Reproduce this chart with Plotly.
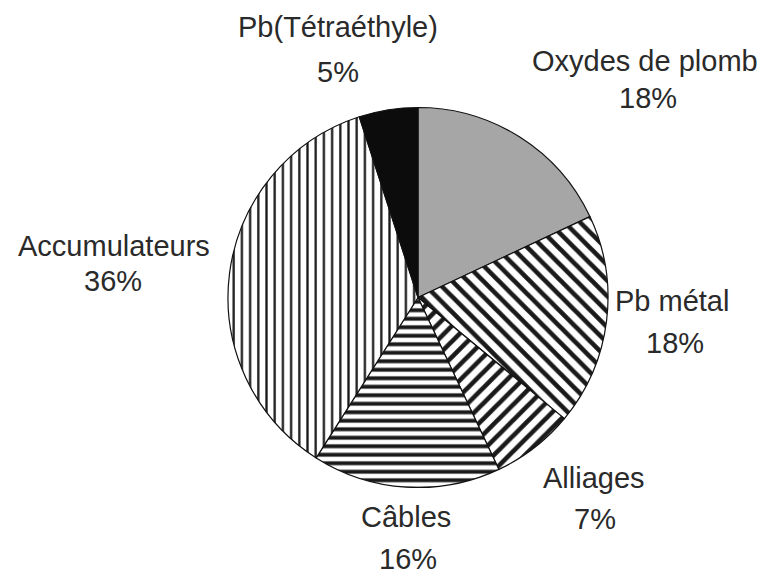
import plotly.graph_objects as go

# Data
categories = ["Oxydes de plomb", "Pb métal", "Alliages", "Câbles", "Accumulateurs", "Pb(Tétraéthyle)"]
values = [18, 18, 7, 16, 36, 5]

# Styles (not data)
slice_colors = ["#a6a6a6", "white", "white", "white", "white", "#0c0c0c"]
pattern_shapes = ["", "\\", "/", "-", "|", ""]
pattern_sizes = [8, 11, 11, 8.5, 8.2, 8]
pattern_solid = [0.3, 0.42, 0.42, 0.46, 0.28, 0.3]

# label placement (pixel centres in the 769x577 canvas): name line, percent line
W, H = 769, 577
label_pos = {
    "Oxydes de plomb": (645, 61, 648, 98),
    "Pb métal": (672, 301, 675, 343),
    "Alliages": (594, 478, 595, 519),
    "Câbles": (406, 517, 408, 559),
    "Accumulateurs": (114, 246, 113, 281),
    "Pb(Tétraéthyle)": (338, 27, 338, 72),
}

cx, cy, r = 418, 297.5, 190

fig = go.Figure(go.Pie(
    labels=categories,
    values=values,
    sort=False,
    direction="clockwise",
    rotation=0,
    textinfo="none",
    hoverinfo="label+percent",
    marker=dict(
        colors=slice_colors,
        line=dict(color="#111111", width=1.2),
        pattern=dict(
            shape=pattern_shapes,
            fillmode="overlay",
            fgcolor="#1a1a1a",
            fgopacity=1,
            size=pattern_sizes,
            solidity=pattern_solid,
        ),
    ),
    domain=dict(x=[(cx - r) / W, (cx + r) / W], y=[1 - (cy + r) / H, 1 - (cy - r) / H]),
    showlegend=False,
))

font = dict(family="Liberation Sans, Arial, sans-serif", size=29, color="#2a2a2a")
for name, val in zip(categories, values):
    x1, y1, x2, y2 = label_pos[name]
    fig.add_annotation(text=name, x=x1 / W, y=1 - y1 / H, xref="paper", yref="paper",
                       xanchor="center", yanchor="middle", showarrow=False, font=font)
    fig.add_annotation(text=f"{val}%", x=x2 / W, y=1 - y2 / H, xref="paper", yref="paper",
                       xanchor="center", yanchor="middle", showarrow=False, font=font)

fig.update_layout(
    width=W, height=H,
    margin=dict(l=0, r=0, t=0, b=0),
    paper_bgcolor="white",
    plot_bgcolor="white",
)

fig.write_html("out.html", config={"displayModeBar": False},
               post_script="document.body.style.margin='0';document.body.style.overflow='hidden';")
